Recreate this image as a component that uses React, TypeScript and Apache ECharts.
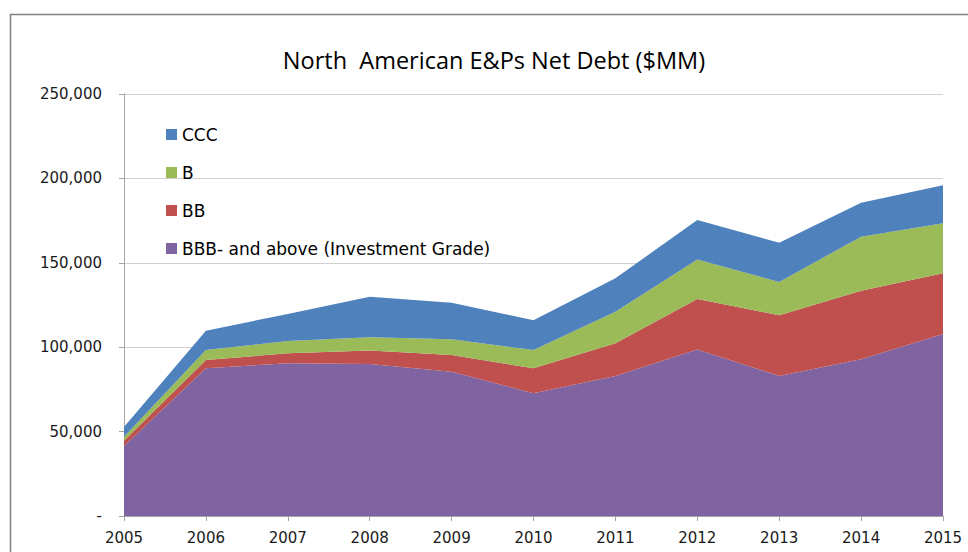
import React, { useEffect, useRef } from "react";
import * as echarts from "echarts";

const years = ["2005", "2006", "2007", "2008", "2009", "2010", "2011", "2012", "2013", "2014", "2015"];
const bbbAndAbove = [41500, 87500, 90500, 90000, 85500, 72700, 83000, 98700, 83000, 92800, 107800];
const bb = [3100, 4900, 5900, 8000, 9900, 14800, 19300, 29900, 35900, 40700, 36000];
const b = [2400, 5900, 7300, 7900, 9300, 10800, 18700, 23400, 19700, 32000, 29600];
const ccc = [5700, 11500, 16000, 24000, 21700, 17700, 19800, 23400, 23300, 20100, 22600];

const seriesNames = ["BBB- and above (Investment Grade)", "BB", "B", "CCC"];
const seriesColors = ["#8064A2", "#C0504D", "#9BBB59", "#4F81BD"];
const legendOrder = ["CCC", "B", "BB", "BBB- and above (Investment Grade)"];

export default function App() {
  const ref = useRef<HTMLDivElement>(null);
  useEffect(() => {
    document.body.style.margin = "0";
    if (!ref.current) return;
    const chart = echarts.init(ref.current, null, { renderer: "svg" });
    const dataSets = [bbbAndAbove, bb, b, ccc];
    const titleFont = "'Open Sans', 'Noto Sans', sans-serif";
    const font = "'DejaVu Sans', Verdana, sans-serif";
    chart.setOption({
      animation: false,
      backgroundColor: "#ffffff",
      title: {
        text: "North  American E&Ps Net Debt ($MM)",
        left: 494,
        textAlign: "center",
        top: 48,
        padding: 0,
        textStyle: { fontFamily: titleFont, fontSize: 23.5, fontWeight: "normal", color: "#000000" },
      },
      graphic: [
        {
          type: "rect",
          shape: { x: 10.5, y: 14.5, width: 1000, height: 600 },
          style: { fill: "none", stroke: "#808080", lineWidth: 1.5 },
          silent: true,
        },
      ],
      legend: {
        orient: "vertical",
        left: 166,
        top: 126,
        padding: 0,
        itemWidth: 11,
        itemHeight: 11,
        itemGap: 21,
        icon: "rect",
        data: legendOrder,
        textStyle: { fontFamily: font, fontSize: 17, color: "#000000" },
      },
      grid: { left: 124, right: 25, top: 94, bottom: 36 },
      xAxis: {
        type: "category",
        data: years,
        boundaryGap: false,
        axisLine: { lineStyle: { color: "#A6A6A6" } },
        axisTick: { show: true, length: 5, lineStyle: { color: "#A6A6A6" } },
        axisLabel: { fontFamily: font, fontSize: 15, color: "#1a1a1a", margin: 14 },
        splitLine: { show: false },
      },
      yAxis: {
        type: "value",
        min: 0,
        max: 250000,
        interval: 50000,
        axisLine: { show: true, lineStyle: { color: "#A6A6A6" } },
        axisTick: { show: true, length: 5, lineStyle: { color: "#A6A6A6" } },
        axisLabel: {
          fontFamily: font,
          fontSize: 15,
          color: "#1a1a1a",
          margin: 22,
          formatter: (v: number) => (v === 0 ? "-" : v.toLocaleString("en-US")),
        },
        splitLine: { lineStyle: { color: "#D0D0D0" } },
      },
      series: seriesNames.map((name, i) => ({
        name,
        type: "line",
        stack: "total",
        data: dataSets[i],
        showSymbol: false,
        symbol: "none",
        lineStyle: { width: 0 },
        itemStyle: { color: seriesColors[i] },
        areaStyle: { color: seriesColors[i], opacity: 1 },
      })),
    });
    return () => chart.dispose();
  }, []);
  return <div ref={ref} style={{ width: 968, height: 552 }} />;
}
